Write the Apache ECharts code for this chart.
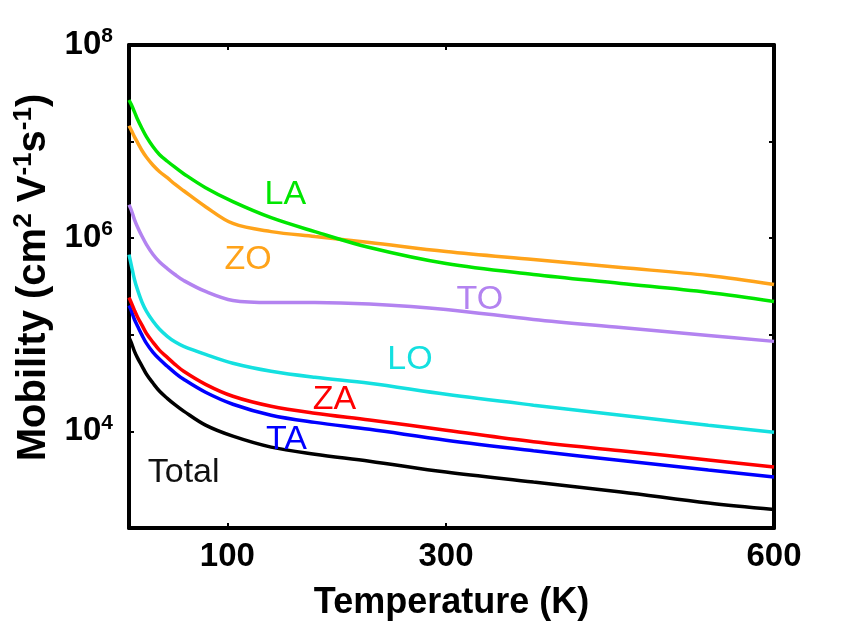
<!DOCTYPE html>
<html>
<head>
<meta charset="utf-8">
<script src="https://cdn.jsdelivr.net/npm/echarts@6/dist/echarts.min.js"></script>
<style>
html,body{margin:0;padding:0;background:#fff;}
#chart{width:842px;height:632px;}
</style>
</head>
<body>
<div id="chart"></div>
<script>
// Temperature (K)
const temperature = [10, 12, 15, 18, 22, 26, 32, 38, 45, 52, 60, 80, 105, 140, 180, 230, 300, 380, 460, 540, 600];
// Mobility (cm^2 V^-1 s^-1)
const LA    = [2.70e7, 2.43e7, 2.03e7, 1.68e7, 1.36e7, 1.12e7, 8.84e6, 7.31e6, 6.26e6, 5.43e6, 4.65e6, 3.33e6, 2.39e6, 1.63e6, 1.17e6, 8.00e5, 5.46e5, 4.21e5, 3.40e5, 2.74e5, 2.21e5];
const ZO    = [1.46e7, 1.32e7, 1.12e7, 9.72e6, 8.04e6, 6.88e6, 5.69e6, 4.88e6, 4.23e6, 3.62e6, 3.10e6, 2.12e6, 1.42e6, 1.17e6, 1.04e6, 9.02e5, 7.28e5, 6.01e5, 4.97e5, 4.11e5, 3.32e5];
const TO    = [2.22e6, 1.97e6, 1.56e6, 1.29e6, 1.04e6, 8.59e5, 6.77e5, 5.66e5, 4.85e5, 4.21e5, 3.65e5, 2.81e5, 2.27e5, 2.16e5, 2.16e5, 2.08e5, 1.83e5, 1.44e5, 1.19e5, 9.86e4, 8.55e4];
const LO    = [6.77e5, 5.34e5, 3.74e5, 2.88e5, 2.16e5, 1.75e5, 1.38e5, 1.14e5, 9.63e4, 8.45e4, 7.59e4, 6.27e4, 5.07e4, 4.19e4, 3.63e4, 3.15e4, 2.42e4, 1.87e4, 1.47e4, 1.16e4, 9.82e3];
const ZA    = [2.43e5, 2.16e5, 1.79e5, 1.51e5, 1.25e5, 1.03e5, 8.35e4, 6.90e4, 5.84e4, 4.95e4, 4.19e4, 3.07e4, 2.31e4, 1.82e4, 1.54e4, 1.31e4, 1.03e4, 7.82e3, 6.30e3, 5.07e3, 4.27e3];
const TA    = [2.01e5, 1.79e5, 1.44e5, 1.22e5, 9.86e4, 8.15e4, 6.58e4, 5.57e4, 4.72e4, 4.04e4, 3.46e4, 2.54e4, 1.91e4, 1.47e4, 1.24e4, 1.05e4, 8.11e3, 6.31e3, 5.00e3, 3.98e3, 3.37e3];
const Total = [9.40e4, 8.35e4, 6.74e4, 5.70e4, 4.72e4, 3.90e4, 3.15e4, 2.60e4, 2.20e4, 1.89e4, 1.62e4, 1.16e4, 8.92e3, 6.87e3, 5.81e3, 4.92e3, 3.79e3, 2.99e3, 2.36e3, 1.81e3, 1.55e3];

const seriesNames = ['LA', 'ZO', 'TO', 'LO', 'ZA', 'TA', 'Total'];
const seriesValues = [LA, ZO, TO, LO, ZA, TA, Total];
const seriesColors = ['#00e600', '#ffa31a', '#b383f0', '#14e0e0', '#ff0000', '#0000ff', '#000000'];
// curve label anchors [temperature, mobility]
const labelAnchors = [[153, 2.82e6], [119, 6.03e5], [331, 2.32e5], [267, 5.57e4], [198, 2.15e4], [154, 8.30e3], [60, 3.78e3]];

const xLabelValues = [100, 300, 600];
const xTickValues = [100, 300];

const chart = echarts.init(document.getElementById('chart'));
const FONT = 'Liberation Sans, Arial, Helvetica, sans-serif';

function yFmt(v) {
  const e = Math.round(Math.log10(v));
  return e % 2 === 0 ? '{b|10}{sup|' + e + '}' : '';
}
const supRich = {
  b: { fontSize: 33, fontWeight: 'bold', fontFamily: FONT, color: '#000', lineHeight: 38 },
  sup: { fontSize: 21, fontWeight: 'bold', fontFamily: FONT, color: '#000', verticalAlign: 'top', lineHeight: 22 }
};

const series = seriesNames.map((n, i) => ({
  name: n,
  type: 'line',
  data: temperature.map((t, j) => [t, seriesValues[i][j]]),
  showSymbol: false,
  smooth: 0.35,
  lineStyle: { color: seriesColors[i], width: 3.5 },
  itemStyle: { color: seriesColors[i] },
  z: 10 - i
}));

chart.setOption({
  animation: false,
  backgroundColor: '#fff',
  grid: { left: 129, right: 68, top: 45, bottom: 104, outerBoundsMode: 'none' },
  xAxis: [{
    type: 'value', min: 10, max: 600, position: 'bottom',
    axisLine: { show: true, onZero: false, lineStyle: { color: '#000', width: 4 } },
    axisTick: { show: true, inside: true, length: 5, customValues: xTickValues, lineStyle: { color: '#000', width: 2 } },
    axisLabel: { show: true, customValues: xLabelValues, margin: 12, fontSize: 33, fontWeight: 'bold', fontFamily: FONT, color: '#000' },
    splitLine: { show: false },
    name: 'Temperature (K)', nameLocation: 'middle', nameGap: 57,
    nameTextStyle: { fontSize: 36, fontWeight: 'bold', fontFamily: FONT, color: '#000' }
  }, {
    type: 'value', min: 10, max: 600, position: 'top',
    axisLine: { show: true, onZero: false, lineStyle: { color: '#000', width: 4 } },
    axisTick: { show: true, inside: true, length: 5, customValues: xTickValues, lineStyle: { color: '#000', width: 2 } },
    axisLabel: { show: false },
    splitLine: { show: false }
  }],
  yAxis: [{
    type: 'log', logBase: 10, min: 1e3, max: 1e8, splitNumber: 5, position: 'left',
    axisLine: { show: true, onZero: false, lineStyle: { color: '#000', width: 4 } },
    axisTick: { show: true, inside: true, length: 5, lineStyle: { color: '#000', width: 2 } },
    minorTick: { show: false },
    axisLabel: { formatter: yFmt, margin: 16, rich: supRich },
    splitLine: { show: false },
    name: '{t|Mobility (cm}{s|2}{t| V}{s|-1}{t|s}{s|-1}{t|)}',
    nameLocation: 'middle', nameGap: 70, nameRotate: 90,
    nameTextStyle: {
      padding: [0, 0, 0, 18],
      rich: {
        t: { fontSize: 40, fontWeight: 'bold', fontFamily: FONT, color: '#000', lineHeight: 46 },
        s: { fontSize: 26, fontWeight: 'bold', fontFamily: FONT, color: '#000', verticalAlign: 'top', lineHeight: 26 }
      }
    }
  }, {
    type: 'log', logBase: 10, min: 1e3, max: 1e8, splitNumber: 5, position: 'right',
    axisLine: { show: true, onZero: false, lineStyle: { color: '#000', width: 4 } },
    axisTick: { show: true, inside: true, length: 5, lineStyle: { color: '#000', width: 2 } },
    axisLabel: { show: false },
    splitLine: { show: false }
  }],
  series: series
});

// curve name labels placed through the chart's own coordinate system
const graphics = seriesNames.map((n, i) => {
  const p = chart.convertToPixel({ xAxisIndex: 0, yAxisIndex: 0 }, labelAnchors[i]);
  return {
    type: 'text', x: p[0], y: p[1], z: 100,
    style: {
      text: n, fill: seriesColors[i] === '#000000' ? '#111' : seriesColors[i],
      font: 'normal 34px ' + FONT, align: 'center', verticalAlign: 'middle'
    }
  };
});
chart.setOption({ graphic: graphics });
</script>
</body>
</html>
